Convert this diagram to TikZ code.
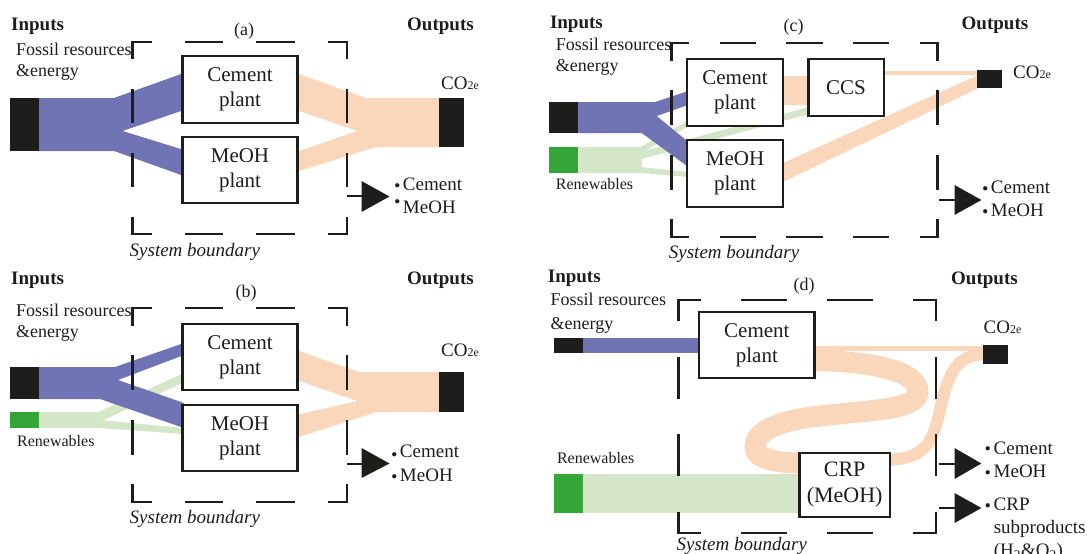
\documentclass[tikz,border=0pt]{standalone}
\usepackage{fontspec}
\setmainfont{Liberation Serif}
\definecolor{fblue}{RGB}{112,115,180}
\definecolor{fpeach}{RGB}{250,214,186}
\definecolor{fgreen}{RGB}{212,229,200}
\definecolor{dgreen}{RGB}{51,166,55}
\definecolor{dblack}{RGB}{29,29,27}
\newcommand{\bside}[5]{%
  \pgfmathsetmacro{\bdl}{veclen((#3)-(#1),(#4)-(#2))/((#5)+1)/2}%
  \pgfmathsetmacro{\bdh}{\bdl/2}%
  \draw[bnd, dash pattern=on \bdl pt off \bdl pt, dash phase=\bdh pt] (#1,#2) -- (#3,#4);}
\newcommand{\sysbound}[6]{%
  \bside{#1}{#2}{#3}{#2}{#5}\bside{#1}{#4}{#3}{#4}{#5}%
  \bside{#1}{#2}{#1}{#4}{#6}\bside{#3}{#2}{#3}{#4}{#6}}
\newcommand{\obul}[1][2pt]{\raisebox{#1}{\fontsize{11}{11}\selectfont$\bullet$}\hspace{3pt}}
\newcommand{\cotwo}{CO{\fontsize{12}{12}\selectfont 2e}}
\begin{document}
\begin{tikzpicture}[x=1pt,y=-1pt,
  box/.style={draw=dblack, line width=2.6pt, fill=white, align=center, inner sep=0pt, text=dblack, font=\fontsize{21}{25}\selectfont},
  lbl/.style={anchor=base west, inner sep=0pt, text=dblack, font=\fontsize{18}{21}\selectfont},
  hdr/.style={anchor=base west, inner sep=0pt, text=dblack, font=\fontsize{19}{22}\selectfont\bfseries},
  outl/.style={anchor=base west, inner sep=0pt, text=dblack, font=\fontsize{19}{22}\selectfont},
  ren/.style={anchor=base west, inner sep=0pt, text=dblack, font=\fontsize{16}{19}\selectfont},
  sysb/.style={anchor=base west, inner sep=0pt, text=dblack, font=\fontsize{19}{22}\selectfont\itshape},
  ttl/.style={anchor=base, inner sep=0pt, text=dblack, font=\fontsize{18}{21}\selectfont},
  bnd/.style={line width=2.9pt, draw=dblack, line cap=rect},
  stem/.style={line width=2.6pt, draw=dblack},
  tri/.style={fill=dblack},
  bar/.style={fill=dblack},
  gbar/.style={fill=dgreen}]
\useasboundingbox (0,0) rectangle (1087,554);

%% ================= (a) =================
\fill[fblue] (37,98) -- (114,98) -- (184,73) -- (184,110) -- (122.6,131) -- (184,150) -- (184,176) -- (114,151) -- (37,151) -- cycle;
\fill[fpeach] (296,73) -- (366,98) -- (440,98) -- (440,147) -- (376,147) -- (296,172) -- (296,152) -- (357.4,131) -- (296,110) -- cycle;
\fill[bar] (10.4,98) rectangle (38.7,151);
\fill[bar] (438.5,98) rectangle (463.7,147);
\sysbound{132.6}{42}{347}{234}{2}{2}
\node[box, minimum width=115.3pt, minimum height=67pt] (ca) at (240,89.5) {Cement\\plant};
\node[box, minimum width=115.3pt, minimum height=66pt] (ma) at (240,170) {MeOH\\plant};
\node[hdr] (ina) at (11,30) {Inputs};
\node[hdr] (outa) at (407,30) {Outputs};
\node[ttl] (tta) at (244,35) {(a)};
\node[lbl] (fa1) at (16,55) {Fossil resources};
\node[lbl] (fa2) at (16,76.7) {\&energy};
\node[outl] (coa) at (441,89.3) {\cotwo};
\draw[stem] (347,196) -- (362.5,196);
\fill[tri] (361.5,181) -- (389.5,196.5) -- (361.5,212) -- cycle;
\node[outl] (oa1) at (394.3,190) {\obul[2pt]Cement};
\node[outl] (oa2) at (394.3,213.3) {\obul[8.8pt]MeOH};
\node[sysb] (sba) at (129.5,256.7) {System boundary};

%% ================= (b) =================
\fill[fgreen] (37,412) rectangle (103,428);
\fill[fgreen] (98,412) -- (184,373) -- (184,382) -- (104,420) -- cycle;
\fill[fgreen] (100,420) -- (184,428) -- (184,434) -- (100,428) -- cycle;
\fill[fblue] (37,367) -- (115,367) -- (184,343) -- (184,355) -- (118,380) -- (184,403) -- (184,428) -- (100,399) -- (37,399) -- cycle;
\fill[fpeach] (296,350) -- (359,372) -- (440,372) -- (440,412) -- (376.4,412) -- (296,438) -- (296,415) -- (357.4,401) -- (296,380) -- cycle;
\fill[bar] (10.4,367) rectangle (38.7,399);
\fill[gbar] (10.4,412) rectangle (38.7,428);
\fill[bar] (438.5,372) rectangle (463.7,412);
\sysbound{132.6}{308}{347}{502}{2}{2}
\node[box, minimum width=115.3pt, minimum height=66pt] (cb) at (240,357) {Cement\\plant};
\node[box, minimum width=115.3pt, minimum height=66pt] (mb) at (240,438) {MeOH\\plant};
\node[hdr] (inb) at (11,284.3) {Inputs};
\node[hdr] (outb) at (407,284.3) {Outputs};
\node[ttl] (ttb) at (246,297.7) {(b)};
\node[lbl] (fb1) at (16,316.7) {Fossil resources};
\node[lbl] (fb2) at (16,337.7) {\&energy};
\node[ren] (rb) at (17,446.7) {Renewables};
\node[outl] (cob) at (441,356.7) {\cotwo};
\draw[stem] (347,464) -- (362.5,464);
\fill[tri] (361.5,448) -- (389.5,463.5) -- (361.5,478) -- cycle;
\node[outl] (ob1) at (391.3,457.7) {\obul[0.7pt]Cement};
\node[outl] (ob2) at (391.3,481) {\obul[1.5pt]MeOH};
\node[sysb] (sbb) at (129.5,523.3) {System boundary};

%% ================= (c) =================
\fill[fgreen] (577,147) rectangle (642,173);
\fill[fgreen] (640,147) -- (688,121) -- (688,126.5) -- (642,152.5) -- cycle;
\fill[fgreen] (640,152) -- (809,107) -- (809,114) -- (642,159) -- cycle;
\fill[fgreen] (640,167) -- (688,172) -- (688,177) -- (640,173) -- cycle;
\fill[fblue] (577,102) -- (655,102) -- (688,91) -- (688,105) -- (656.7,116) -- (688,141.7) -- (688,166.7) -- (641.7,133) -- (577,133) -- cycle;
\fill[fpeach] (780,76) rectangle (810,105);
\fill[fpeach] (880,70.7) rectangle (978,75);
\fill[fpeach] (780,164.4) -- (978,75) -- (978,88.3) -- (780,183.4) -- cycle;
\fill[bar] (549,102) rectangle (578,133);
\fill[gbar] (549,147) rectangle (578,173);
\fill[bar] (977,70) rectangle (1002,88.3);
\sysbound{671.2}{43}{937.7}{237}{3}{2}
\node[box, minimum width=96.2pt, minimum height=67pt] (cc) at (735,92.5) {Cement\\plant};
\node[box, minimum width=75.6pt, minimum height=56.7pt] (ccs) at (846,87.5) {CCS};
\node[box, minimum width=96.2pt, minimum height=67pt] (mc) at (735,173.5) {MeOH\\plant};
\node[hdr] (inc) at (549.8,28.3) {Inputs};
\node[hdr] (outc) at (961.5,29.3) {Outputs};
\node[ttl] (ttc) at (793.6,31.7) {(c)};
\node[lbl] (fc1) at (555.7,50) {Fossil resources};
\node[lbl] (fc2) at (555.7,71.7) {\&energy};
\node[ren] (rc) at (555.7,189.3) {Renewables};
\node[outl] (coc) at (1012.9,78.3) {\cotwo};
\draw[stem] (939.4,200) -- (956,200);
\fill[tri] (954.5,185) -- (981.4,200) -- (954.5,215) -- cycle;
\node[outl] (oc1) at (982.3,193.3) {\obul[2.3pt]Cement};
\node[outl] (oc2) at (982.3,216.7) {\obul[2.3pt]MeOH};
\node[sysb] (sbc) at (668.7,258.3) {System boundary};

%% ================= (d) =================
\fill[fgreen] (581,474) rectangle (801,513);
\fill[fblue] (581,338) rectangle (700,353);
\draw[fpeach, line width=5pt] (805,348.5) -- (984,348.5);
\draw[fpeach, line width=21pt] (805,360.5) .. controls (876,360.5) and (918,372) .. (918,392) .. controls (918,410) and (870,410) .. (820,416) .. controls (775,421) and (755,432) .. (755,447) .. controls (755,460) and (780,463) .. (802,463);
\draw[fpeach, line width=12pt] (880,460) .. controls (925,460) and (932,445) .. (940,410) .. controls (948,375) and (955,355) .. (985,354);
\fill[bar] (554,338) rectangle (582.7,353);
\fill[gbar] (554,474) rectangle (582.7,513);
\fill[bar] (982.5,345) rectangle (1008,364);
\sysbound{678.2}{300}{936}{533}{2}{2}
\node[box, minimum width=115.5pt, minimum height=66pt] (cd) at (756.85,345) {Cement\\plant};
\node[box, minimum width=90.3pt, minimum height=64pt, font=\fontsize{22}{26}\selectfont] (crp) at (844.65,485) {CRP\\(MeOH)};
\node[hdr] (ind) at (547.7,282.3) {Inputs};
\node[hdr] (outd) at (951,284) {Outputs};
\node[ttl] (ttd) at (804,290) {(d)};
\node[lbl] (fd1) at (550.5,305.7) {Fossil resources};
\node[lbl] (fd2) at (550.5,329) {\&energy};
\node[ren] (rd) at (556.8,463.3) {Renewables};
\node[outl] (cod) at (983.5,333.3) {\cotwo};
\draw[stem] (938.7,464) -- (956,464);
\fill[tri] (954.5,448) -- (981.4,463.5) -- (954.5,479) -- cycle;
\draw[stem] (938.7,508) -- (956,508);
\fill[tri] (954.5,493) -- (981.4,508) -- (954.5,523) -- cycle;
\node[outl] (od1) at (985,454) {\obul[2.3pt]Cement};
\node[outl] (od2) at (985,477.3) {\obul[2.3pt]MeOH};
\node[outl] (od3) at (985,510.7) {\obul[2.3pt]CRP};
\node[outl] (od4) at (993.6,533.3) {subproducts};
\node[outl] (od5) at (993.6,556.6) {(H\textsubscript{2}\&O\textsubscript{2})};
\node[sysb] (sbd) at (676.4,550) {System boundary};
\end{tikzpicture}
\end{document}
